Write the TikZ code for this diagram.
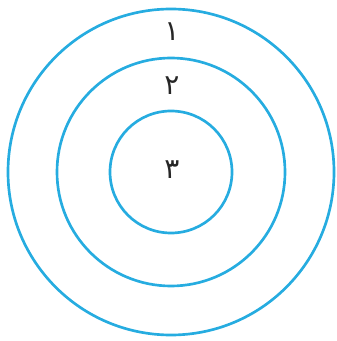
\documentclass[tikz,border=0pt]{standalone}
\usepackage{fontspec}
\newfontfamily\arabicfont[Script=Arabic]{DejaVu Sans}
\TeXXeTstate=1
\usepackage{xcolor}
\definecolor{ringblue}{RGB}{38,172,224}

\begin{document}
\begin{tikzpicture}[x=0.75pt, y=0.75pt]

\tikzset{
    ring/.style={line width=2pt, ringblue},
    numlbl/.style={font=\arabicfont\fontsize{21}{21}\selectfont, text=black!85, inner sep=0pt}
}

\useasboundingbox (0,0) rectangle (336,-341);

%====================================================
% concentric rings
%====================================================
\coordinate (c) at (171,-172);

\def\Ra{163}
\def\Rb{114}
\def\Rc{61}

\draw[ring] (c) circle (\Ra);
\draw[ring] (c) circle (\Rb);
\draw[ring] (c) circle (\Rc);

%====================================================
% labels
%====================================================
\node[numlbl] (one)   at (172,-32)  {\beginR ۱\endR};
\node[numlbl] (two)   at (172,-86)  {\beginR ۲\endR};
\node[numlbl] (three) at (172,-170) {\beginR ۳\endR};

\end{tikzpicture}
\end{document}
